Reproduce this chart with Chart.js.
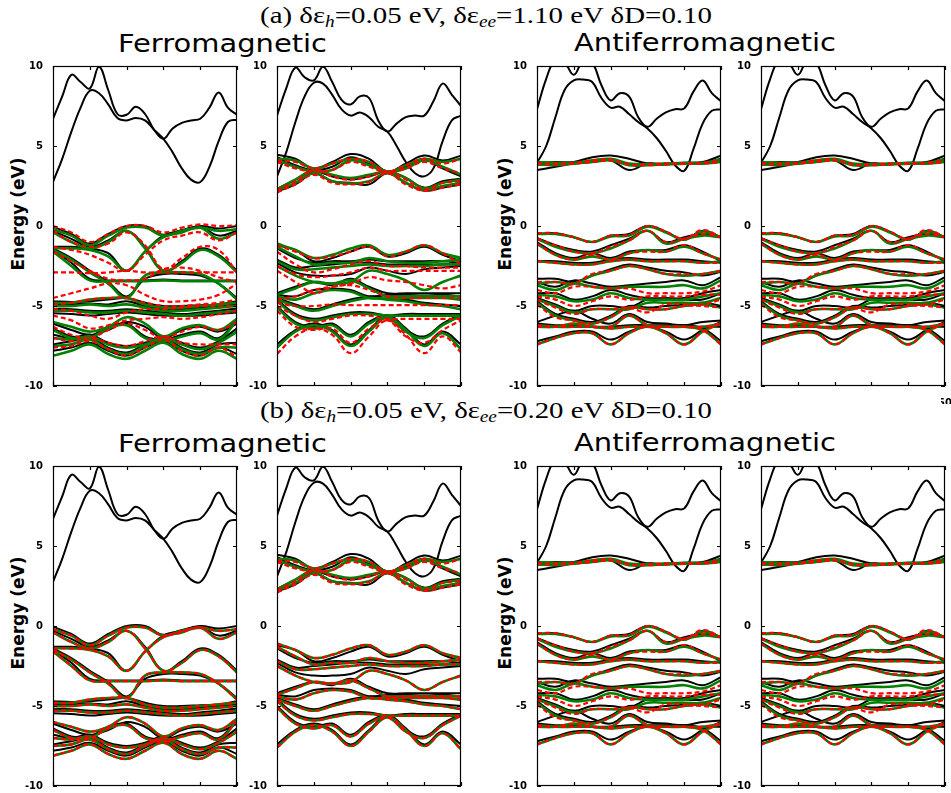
<!DOCTYPE html>
<html>
<head>
<meta charset="utf-8">
<script src="https://cdn.jsdelivr.net/npm/chart.js@4.4.0/dist/chart.umd.min.js"></script>
<style>
html, body { margin: 0; padding: 0; background: #fff; width: 951px; height: 793px; overflow: hidden; }
canvas { position: absolute; }
.t { position: absolute; white-space: nowrap; color: #000; transform-origin: 0 0; }
.head { font-family: "Liberation Serif", serif; font-size: 24px; line-height: 24px; }
.head sub { font-style: italic; font-size: 16px; vertical-align: -4px; line-height: 0; }
.mag { font-family: "DejaVu Sans", sans-serif; font-size: 25px; line-height: 25px; }
.ylab { font-family: "DejaVu Sans", sans-serif; font-weight: bold; font-size: 17px; line-height: 17px;
        transform-origin: 50% 50%; transform: translate(-50%, -50%) rotate(-90deg); }
#cover { position: absolute; left: 0; top: 389px; width: 941px; height: 404px; background: #fff; }
</style>
</head>
<body>
<div class="t head fit" data-cx="486" data-w="452" style="top:3px">(a) δε<sub>h</sub>=0.05 eV, δε<sub>ee</sub>=1.10 eV δD=0.10</div>
<div class="t mag fit" data-cx="222" data-w="209" style="top:31px">Ferromagnetic</div>
<div class="t mag fit" data-cx="705" data-w="262" style="top:30px">Antiferromagnetic</div>
<div class="t ylab" style="left:18px;top:214px">Energy (eV)</div>
<div class="t ylab" style="left:505px;top:214px">Energy (eV)</div>
<div id="rowA"></div>
<div id="cover"></div>
<div class="t head fit" data-cx="486" data-w="452" style="top:398px">(b) δε<sub>h</sub>=0.05 eV, δε<sub>ee</sub>=0.20 eV δD=0.10</div>
<div class="t mag fit" data-cx="222" data-w="209" style="top:431px">Ferromagnetic</div>
<div class="t mag fit" data-cx="705" data-w="262" style="top:430px">Antiferromagnetic</div>
<div class="t ylab" style="left:18px;top:613px">Energy (eV)</div>
<div class="t ylab" style="left:505px;top:613px">Energy (eV)</div>
<div id="rowB"></div>
<script>
// k-path sample points and axis ticks
const kFine = [0,2.5,5,7.5,10,12.5,15,17.5,20,22.5,25,27.5,30,32.5,35,37.5,40,42.5,45,47.5,50];
const kCoarse = [0,5,10,15,20,25,30,35,40,45,50];
const kTicks = [0,10,20,30,40,50];
const eTicks = [-10,-5,0,5,10];

// ferromagnetic, first spin channel
const fmuCond = [
  [6.7,8.1,9.45,9.0,8.6,9.95,8.5,7.0,6.95,7.45,7.0,6.0,5.45,6.1,6.45,6.6,6.7,7.4,8.35,7.4,6.95],
  [2.75,4.2,5.9,7.4,8.45,8.3,7.6,6.75,6.6,6.75,6.6,6.0,5.45,4.6,3.6,2.9,2.75,3.7,5.3,6.5,6.65]
];
const fmuBlack = [
  [-0.05,-0.5,-1.1,-0.5,0.0,0.0,-0.55,-0.25,0.0,-0.15,0.0],
  [-0.3,-0.8,-1.3,-0.9,-0.3,-1.3,-2.8,-2.2,-1.4,-1.8,-2.8],
  [-1.3,-1.3,-1.4,-1.7,-2.8,-1.6,-0.6,-0.3,-0.05,-0.6,-0.3],
  [-1.5,-2.3,-3.3,-3.4,-3.4,-3.4,-3.35,-3.4,-3.4,-3.4,-3.4],
  [-1.4,-2.0,-2.8,-3.5,-4.4,-3.3,-3.0,-3.0,-3.1,-3.6,-4.5],
  [-4.7,-4.75,-4.7,-4.6,-4.5,-4.8,-5.0,-5.0,-4.95,-4.9,-4.7],
  [-4.95,-4.9,-4.85,-4.9,-4.7,-5.0,-5.2,-5.2,-5.1,-5.0,-4.9],
  [-5.2,-5.2,-5.3,-5.3,-5.2,-5.3,-5.4,-5.5,-5.4,-5.3,-5.15],
  [-5.45,-5.5,-5.6,-5.5,-5.4,-5.5,-5.6,-5.6,-5.6,-5.5,-5.4],
  [-6.1,-6.5,-6.8,-6.5,-6.0,-6.3,-7.0,-6.5,-6.3,-6.6,-6.1],
  [-6.4,-6.9,-6.9,-6.3,-6.1,-6.9,-7.1,-6.8,-6.6,-7.0,-5.8],
  [-6.8,-7.0,-6.8,-7.3,-7.5,-7.3,-6.9,-7.3,-7.6,-7.2,-6.4],
  [-7.4,-7.2,-7.0,-7.6,-7.9,-7.4,-7.0,-7.6,-7.9,-7.4,-7.3],
  [-7.8,-7.6,-7.3,-7.8,-8.1,-7.6,-7.2,-7.8,-8.1,-7.6,-8.0]
];
const fmuGreen = [
  [-0.2,-0.6,-1.2,-0.6,-0.1,-0.1,-0.6,-0.3,-0.1,-0.3,-0.2],
  [-0.4,-1.0,-1.4,-1.0,-0.3,-1.4,-2.8,-2.3,-1.5,-1.9,-2.9],
  [-1.4,-1.4,-1.5,-1.9,-2.8,-1.6,-0.7,-0.4,-0.1,-0.8,-0.4],
  [-1.6,-2.5,-3.4,-3.45,-3.45,-3.45,-3.4,-3.45,-3.45,-3.45,-3.45],
  [-1.5,-2.1,-2.9,-3.6,-4.5,-3.1,-2.9,-2.9,-3.0,-3.6,-4.6],
  [-4.8,-4.8,-4.6,-4.5,-4.5,-4.9,-5.1,-5.1,-5.0,-4.9,-4.8],
  [-5.0,-5.0,-4.9,-5.0,-4.9,-5.1,-5.3,-5.3,-5.2,-5.1,-5.0],
  [-5.3,-5.3,-5.4,-5.4,-5.3,-5.4,-5.5,-5.6,-5.5,-5.4,-5.3],
  [-6.0,-6.3,-6.6,-6.3,-5.7,-6.1,-6.9,-6.4,-6.2,-6.5,-5.8],
  [-6.5,-7.0,-7.0,-6.4,-6.2,-7.0,-7.2,-6.9,-6.7,-7.1,-5.9],
  [-7.0,-7.1,-6.9,-7.4,-7.6,-7.4,-7.0,-7.4,-7.7,-7.3,-6.6],
  [-7.5,-7.4,-7.1,-7.7,-8.0,-7.5,-7.1,-7.7,-8.0,-7.6,-7.6],
  [-8.1,-7.8,-7.4,-8.0,-8.3,-7.8,-7.3,-8.0,-8.3,-7.8,-8.3]
];
const fmuRedA = [
  [0.0,-0.4,-1.0,-0.5,0.0,0.0,-0.4,-0.1,0.1,0.0,0.05],
  [-0.3,-1.0,-1.3,-1.1,-0.4,-1.2,-2.7,-2.0,-1.3,-1.5,-2.9],
  [-1.3,-1.5,-1.8,-2.3,-2.8,-1.8,-0.9,-0.6,-0.4,-0.9,-0.4],
  [-2.9,-2.9,-2.95,-2.9,-2.8,-2.9,-2.9,-2.9,-2.9,-2.9,-2.9],
  [-1.6,-2.2,-2.8,-3.3,-3.4,-3.3,-2.7,-2.6,-2.8,-3.2,-3.5],
  [-4.5,-4.2,-3.9,-3.6,-3.7,-4.3,-4.7,-4.7,-4.6,-4.3,-3.6],
  [-4.9,-4.8,-4.6,-4.5,-4.5,-4.8,-5.0,-5.0,-4.9,-4.8,-4.6],
  [-5.2,-5.3,-5.6,-5.8,-5.4,-5.2,-5.2,-5.1,-5.0,-5.0,-5.0],
  [-5.6,-5.9,-6.4,-6.2,-5.9,-5.8,-5.7,-5.8,-5.7,-5.5,-5.3],
  [-6.3,-6.8,-7.0,-6.5,-6.1,-6.5,-7.0,-6.6,-6.3,-6.5,-6.0],
  [-7.0,-7.2,-7.0,-7.3,-7.5,-7.2,-6.9,-7.3,-7.4,-7.4,-7.4],
  [-7.6,-7.5,-7.2,-7.7,-8.1,-7.6,-7.1,-7.8,-8.1,-7.6,-8.2]
];

// ferromagnetic, second spin channel
const fmdCond = [
  [6.9,8.6,9.9,9.3,9.1,9.95,9.0,7.9,7.6,8.1,8.0,6.6,5.9,6.4,6.8,6.9,6.9,7.8,8.9,8.2,7.5],
  [3.1,4.6,6.5,8.1,8.95,8.9,8.2,7.3,6.9,7.1,6.8,6.2,5.9,5.0,4.0,3.3,3.1,3.6,5.3,6.6,6.9]
];
const fmdMidBlack = [
  [4.45,4.2,3.6,4.0,4.5,4.2,3.4,3.9,4.4,4.1,4.4],
  [4.3,3.8,3.5,3.7,4.3,3.9,3.4,3.7,4.2,3.6,3.1],
  [2.3,2.9,3.4,3.1,2.9,3.1,3.4,3.0,2.4,2.8,2.95],
  [2.15,2.6,3.3,2.8,2.7,2.6,3.3,2.7,2.2,2.4,2.6]
];
const fmdMidGreen = [
  [4.2,4.1,3.6,3.9,4.2,4.0,3.4,3.8,4.2,4.0,4.2],
  [4.1,3.7,3.4,3.5,4.1,3.8,3.4,3.6,4.1,3.7,3.2],
  [2.3,2.9,3.5,3.2,3.0,3.2,3.4,3.0,2.35,2.7,2.9],
  [2.2,2.7,3.3,2.8,2.65,2.8,3.3,2.7,2.25,2.5,2.7]
];
const fmdMidRed = [
  [4.1,4.0,3.6,3.9,4.2,4.0,3.4,3.8,4.2,3.9,4.2],
  [4.0,3.6,3.4,3.5,4.0,3.7,3.35,3.6,4.0,3.6,3.3],
  [2.25,2.8,3.5,3.1,2.9,3.1,3.4,2.9,2.3,2.7,2.8],
  [2.1,2.6,3.2,2.7,2.6,2.75,3.3,2.6,2.2,2.4,2.6]
];
const fmdBlack = [
  [-1.2,-1.5,-2.2,-2.0,-1.6,-1.3,-1.9,-1.7,-1.3,-1.8,-2.2],
  [-1.4,-2.0,-2.3,-2.2,-2.2,-2.1,-2.2,-2.2,-2.2,-2.2,-2.3],
  [-2.1,-2.6,-2.5,-2.4,-2.3,-2.3,-2.4,-2.4,-2.4,-2.4,-2.4],
  [-2.3,-2.9,-3.1,-3.1,-3.0,-2.6,-2.8,-3.0,-2.7,-2.6,-2.5],
  [-4.2,-3.8,-3.5,-3.7,-3.3,-3.8,-4.2,-4.2,-4.2,-4.2,-4.2],
  [-4.3,-4.4,-4.0,-3.9,-4.0,-4.4,-4.3,-4.3,-4.35,-4.3,-4.4],
  [-4.5,-4.9,-5.2,-4.9,-4.6,-4.4,-4.5,-4.6,-4.8,-4.9,-5.0],
  [-4.6,-5.5,-5.8,-5.6,-5.4,-5.4,-5.6,-5.5,-5.5,-5.5,-5.5],
  [-5.0,-6.0,-6.3,-6.1,-6.8,-6.0,-5.6,-6.5,-6.9,-6.1,-5.5],
  [-7.4,-6.5,-6.1,-6.5,-7.4,-6.5,-5.6,-6.4,-7.4,-6.6,-7.4]
];
const fmdGreen = [
  [-1.1,-1.5,-2.0,-1.8,-1.4,-1.2,-1.8,-1.6,-1.2,-1.7,-2.0],
  [-1.3,-1.9,-2.4,-2.3,-2.3,-2.0,-2.2,-2.3,-2.3,-2.2,-2.1],
  [-2.2,-2.7,-2.7,-2.6,-2.5,-2.4,-2.5,-2.5,-2.5,-2.4,-2.4],
  [-2.5,-3.1,-3.5,-3.6,-3.5,-2.8,-3.0,-3.4,-4.0,-3.5,-3.1],
  [-4.3,-3.9,-3.5,-3.6,-3.4,-3.9,-4.4,-4.4,-4.4,-4.4,-4.4],
  [-4.4,-4.6,-4.2,-4.0,-4.1,-4.5,-4.5,-4.5,-4.5,-4.5,-4.6],
  [-4.6,-5.0,-5.3,-5.0,-4.7,-4.5,-4.6,-4.7,-4.9,-5.0,-5.2],
  [-4.7,-5.6,-5.9,-5.7,-5.5,-5.5,-5.6,-5.6,-5.6,-5.6,-5.6],
  [-5.1,-6.1,-6.4,-6.2,-6.9,-6.1,-5.7,-6.6,-7.0,-6.2,-5.6],
  [-7.6,-6.6,-6.2,-6.6,-7.5,-6.6,-5.7,-6.5,-7.5,-6.7,-7.7]
];
const fmdRedA = [
  [-1.2,-1.6,-2.0,-1.9,-1.6,-1.3,-1.9,-1.6,-1.2,-1.7,-2.4],
  [-1.6,-2.4,-2.9,-2.7,-2.4,-2.2,-2.5,-2.5,-2.6,-2.6,-2.6],
  [-2.5,-3.0,-3.2,-3.1,-2.9,-2.6,-2.8,-2.8,-2.8,-2.8,-2.8],
  [-2.8,-3.5,-4.2,-3.8,-3.6,-3.2,-3.4,-3.5,-3.7,-3.9,-3.7],
  [-4.6,-4.4,-4.0,-3.8,-3.7,-4.0,-4.4,-4.5,-4.5,-4.5,-4.5],
  [-4.8,-5.0,-5.0,-4.9,-4.95,-4.95,-4.95,-4.95,-4.95,-4.95,-4.95],
  [-5.0,-5.6,-6.0,-5.8,-5.6,-5.6,-5.8,-5.8,-5.8,-5.8,-5.8],
  [-5.3,-6.3,-6.5,-6.4,-7.3,-6.4,-5.9,-6.9,-7.3,-6.5,-5.9],
  [-8.0,-6.9,-6.4,-6.8,-7.95,-6.9,-5.9,-6.8,-7.95,-6.9,-7.9]
];

// antiferromagnetic
const afmCond = [
  [7.3,9.2,10.4,10.2,9.45,10.3,10.2,8.8,7.85,8.3,8.1,6.8,6.2,6.7,7.1,7.3,7.35,8.4,9.1,8.3,7.8],
  [3.95,5.0,6.8,8.5,9.1,9.15,9.0,8.0,7.4,7.45,7.0,6.5,6.1,5.5,4.7,3.8,3.45,4.8,6.4,7.2,7.3]
];
const afmMidBlack = [
  [3.9,4.0,4.0,4.3,4.4,4.2,3.9,3.9,3.95,4.0,4.4],
  [3.5,3.7,3.9,4.0,4.1,3.5,3.9,3.85,3.9,3.9,4.2]
];
const afmMidGreen = [
  [4.0,3.95,3.95,4.1,4.2,3.9,3.85,3.9,3.95,3.95,4.15],
  [3.85,3.8,3.9,4.0,4.1,3.8,3.8,3.85,3.9,3.9,4.0]
];
const afmMidRed = [
  [3.95,3.9,3.95,4.1,4.15,3.85,3.85,3.9,3.9,3.95,4.1],
  [3.9,3.85,3.9,4.0,4.1,3.85,3.8,3.85,3.9,3.9,4.0]
];
const afmBlack = [
  [-0.5,-0.45,-0.7,-1.0,-0.6,-0.5,0.0,-0.35,-0.85,-0.3,-0.7],
  [-0.75,-1.2,-1.5,-1.6,-1.2,-0.8,-0.3,-1.0,-0.7,-0.5,-0.65],
  [-1.0,-1.7,-2.0,-1.7,-2.0,-1.6,-1.5,-1.5,-1.2,-1.6,-2.2],
  [-2.2,-2.2,-2.3,-2.3,-2.1,-2.0,-2.1,-2.1,-2.1,-2.2,-2.3],
  [-3.3,-3.3,-3.5,-3.1,-2.7,-2.4,-2.6,-2.8,-2.9,-3.1,-2.85],
  [-3.5,-3.8,-3.4,-3.6,-3.8,-3.7,-3.6,-3.5,-3.4,-3.7,-3.2],
  [-4.2,-4.2,-4.6,-4.4,-4.0,-4.3,-4.5,-4.5,-4.5,-4.2,-4.0],
  [-4.5,-4.9,-5.3,-5.0,-5.0,-5.1,-4.6,-4.6,-4.6,-4.6,-4.2],
  [-4.7,-5.5,-5.8,-6.0,-5.6,-5.0,-5.1,-5.0,-4.9,-4.8,-5.0],
  [-6.0,-5.6,-5.3,-5.8,-6.1,-5.5,-6.0,-6.1,-6.2,-6.0,-5.9],
  [-6.3,-6.3,-6.3,-6.3,-6.3,-6.3,-6.3,-6.3,-6.3,-6.3,-6.3],
  [-7.2,-6.9,-6.6,-6.6,-7.1,-6.6,-6.3,-6.6,-7.1,-6.5,-6.0],
  [-6.1,-6.2,-6.2,-6.3,-6.3,-6.2,-6.2,-6.2,-6.2,-6.4,-7.2]
];
const afmGreen = [
  [-0.5,-0.5,-0.7,-1.0,-0.65,-0.6,-0.05,-0.4,-0.85,-0.35,-0.7],
  [-0.8,-1.3,-1.6,-1.7,-1.4,-0.9,-0.3,-1.1,-0.8,-0.6,-0.7],
  [-1.1,-1.8,-2.1,-1.9,-2.1,-1.7,-1.5,-1.6,-1.3,-1.7,-2.1],
  [-2.2,-2.3,-2.4,-2.4,-2.2,-2.1,-2.2,-2.2,-2.2,-2.3,-2.2],
  [-3.6,-3.5,-3.6,-3.1,-2.8,-2.5,-2.7,-3.0,-3.1,-3.0,-2.8],
  [-3.7,-4.0,-3.6,-3.8,-3.9,-3.8,-3.8,-3.8,-3.7,-3.9,-3.4],
  [-4.3,-4.4,-4.7,-4.6,-4.2,-4.5,-4.6,-4.6,-4.6,-4.4,-4.2],
  [-4.6,-5.0,-5.4,-5.2,-5.2,-5.2,-4.8,-4.8,-4.8,-4.8,-4.5],
  [-4.8,-5.6,-5.9,-6.1,-5.7,-5.1,-5.2,-5.2,-5.0,-4.9,-5.1],
  [-6.3,-6.3,-6.1,-6.3,-6.3,-5.6,-6.2,-6.3,-6.3,-6.3,-6.1],
  [-7.4,-7.0,-6.7,-6.7,-7.4,-6.7,-6.3,-6.7,-7.4,-6.6,-6.1],
  [-6.2,-6.3,-6.3,-6.3,-6.4,-6.3,-6.3,-6.3,-6.3,-6.5,-7.4]
];
const afmRed = [
  [-0.45,-0.45,-0.7,-1.0,-0.6,-0.55,0.0,-0.35,-0.8,-0.25,-0.7],
  [-0.8,-1.2,-1.6,-1.7,-1.3,-0.9,-0.3,-1.0,-0.8,-0.5,-0.7],
  [-1.1,-1.8,-2.1,-1.8,-2.1,-1.7,-1.6,-1.6,-1.2,-1.7,-2.1],
  [-2.2,-2.3,-2.4,-2.4,-2.2,-2.1,-2.2,-2.2,-2.2,-2.3,-2.3],
  [-3.5,-3.5,-3.6,-3.0,-2.8,-2.5,-2.7,-3.0,-3.0,-3.0,-2.8],
  [-4.0,-4.2,-3.8,-3.8,-3.9,-3.9,-4.2,-4.2,-4.2,-4.1,-3.7],
  [-4.4,-4.6,-5.0,-4.7,-4.4,-4.6,-4.4,-4.4,-4.4,-4.3,-4.3],
  [-4.6,-5.1,-5.5,-5.2,-5.2,-5.1,-5.4,-4.9,-4.9,-4.9,-4.6],
  [-4.9,-5.7,-5.9,-6.1,-5.7,-5.1,-5.2,-5.2,-5.0,-5.0,-5.1],
  [-6.3,-6.3,-6.1,-6.3,-6.3,-5.6,-6.2,-6.3,-6.3,-6.3,-6.1],
  [-7.4,-7.0,-6.7,-6.7,-7.4,-6.7,-6.3,-6.7,-7.4,-6.6,-6.1],
  [-6.2,-6.3,-6.3,-6.3,-6.4,-6.3,-6.3,-6.3,-6.3,-6.5,-7.4]
];

// panel sets: black = reference bands, green = model, red dashed = model variant
const fmuA = { black: fmuCond.concat(fmuBlack), green: fmuGreen, red: fmuRedA };
const fmuB = { black: fmuCond.concat(fmuBlack), green: fmuGreen, red: fmuGreen };
const fmdA = { black: fmdCond.concat(fmdMidBlack, fmdBlack), green: fmdMidGreen.concat(fmdGreen), red: fmdMidRed.concat(fmdRedA) };
const fmdB = { black: fmdCond.concat(fmdMidBlack, fmdBlack), green: fmdMidGreen.concat(fmdGreen), red: fmdMidRed.concat(fmdGreen) };
const afm = { black: afmCond.concat(afmMidBlack, afmBlack), green: afmMidGreen.concat(afmGreen), red: afmMidRed.concat(afmRed) };

const boxW = 186, boxH = 320, padTop = 8, padRight = 8, xAxisH = 18;
const tickFont = { family: 'DejaVu Sans', weight: 'bold', size: 10 };

const framePlugin = {
  id: 'frame',
  afterDatasetsDraw(chart) {
    const { ctx, chartArea: a, scales: { x, y } } = chart;
    ctx.save();
    ctx.strokeStyle = '#000';
    ctx.lineWidth = 1.2;
    ctx.beginPath();
    kTicks.forEach(v => {
      const px = Math.round(x.getPixelForValue(v)) + 0.5;
      ctx.moveTo(px, a.bottom); ctx.lineTo(px, a.bottom - 4);
      ctx.moveTo(px, a.top); ctx.lineTo(px, a.top + 4);
    });
    eTicks.forEach(v => {
      const py = Math.round(y.getPixelForValue(v)) + 0.5;
      ctx.moveTo(a.left, py); ctx.lineTo(a.left + 4, py);
      ctx.moveTo(a.right, py); ctx.lineTo(a.right - 4, py);
    });
    ctx.stroke();
    ctx.strokeRect(Math.round(a.left) + 0.5, Math.round(a.top) + 0.5, Math.round(a.width) - 1, Math.round(a.height) - 1);
    ctx.restore();
  }
};

function toPts(vals) {
  const ks = vals.length === kFine.length ? kFine : kCoarse;
  return vals.map((v, i) => ({ x: ks[i], y: v }));
}

// Chart.js paints the first dataset last, so red goes first to end up on top
function bandSets(set) {
  const out = [];
  set.red.forEach(b => out.push({ data: toPts(b), borderColor: '#ff0000', borderWidth: 2.2, borderDash: [5, 3] }));
  set.green.forEach(b => out.push({ data: toPts(b), borderColor: '#008000', borderWidth: 2.6 }));
  set.black.forEach(b => out.push({ data: toPts(b), borderColor: '#000', borderWidth: 2 }));
  return out;
}

function addPanel(holder, boxLeft, boxTop, axisW, set) {
  const cv = document.createElement('canvas');
  cv.width = axisW + boxW + padRight;
  cv.height = padTop + boxH + xAxisH;
  cv.style.left = (boxLeft - axisW) + 'px';
  cv.style.top = (boxTop - padTop) + 'px';
  holder.appendChild(cv);
  new Chart(cv, {
    type: 'line',
    data: { datasets: bandSets(set) },
    options: {
      responsive: false,
      animation: false,
      devicePixelRatio: 1,
      layout: { padding: { top: padTop, right: padRight, left: 0, bottom: 0 } },
      plugins: { legend: { display: false }, tooltip: { enabled: false } },
      elements: { point: { radius: 0 }, line: { tension: 0.4, fill: false, borderJoinStyle: 'round' } },
      datasets: { line: { clip: 0 } },
      scales: {
        x: {
          type: 'linear', min: 0, max: 50,
          grid: { display: false }, border: { display: false },
          ticks: { stepSize: 10, padding: 3, color: '#000', font: tickFont, maxRotation: 0 },
          afterFit: s => { s.height = xAxisH; }
        },
        y: {
          min: -10, max: 10,
          grid: { display: false }, border: { display: false },
          ticks: { stepSize: 5, padding: 2, color: '#000', font: tickFont },
          afterFit: s => { s.width = axisW; }
        }
      }
    },
    plugins: [framePlugin]
  });
}

const rowA = document.getElementById('rowA');
const rowB = document.getElementById('rowB');
addPanel(rowA, 53, 66, 53, fmuA);
addPanel(rowA, 277, 66, 30, fmdA);
addPanel(rowA, 537, 66, 53, afm);
addPanel(rowA, 761, 66, 30, afm);
addPanel(rowB, 53, 466, 53, fmuB);
addPanel(rowB, 277, 466, 30, fmdB);
addPanel(rowB, 537, 466, 53, afm);
addPanel(rowB, 761, 466, 30, afm);

// stretch headings horizontally to the measured widths
document.querySelectorAll('.fit').forEach(el => {
  const w = el.getBoundingClientRect().width;
  const sx = Number(el.dataset.w) / w;
  el.style.left = (Number(el.dataset.cx) - Number(el.dataset.w) / 2) + 'px';
  el.style.transform = 'scaleX(' + sx + ')';
});
</script>
</body>
</html>
